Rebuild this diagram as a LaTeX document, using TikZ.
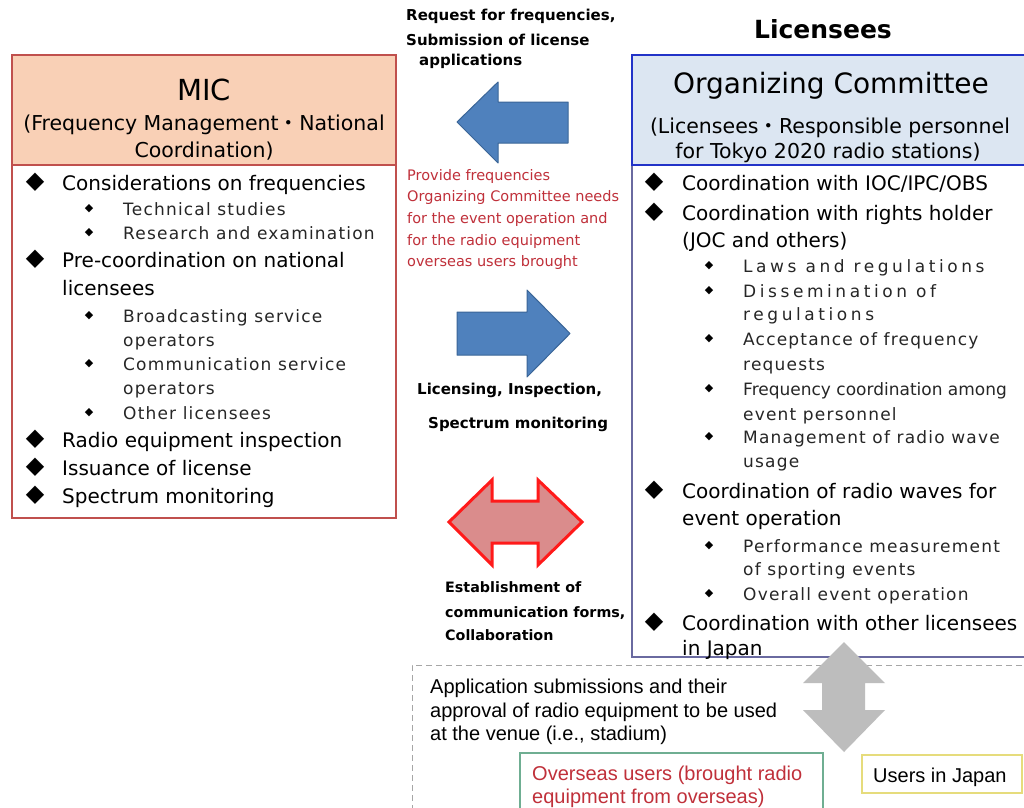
\documentclass[tikz,border=0pt]{standalone}
\usepackage{fontspec}
\setmainfont{DejaVu Sans}
\newfontfamily\subfont[LetterSpace=7]{DejaVu Sans}
\newfontfamily\subwide[LetterSpace=21]{DejaVu Sans}
\newfontfamily\arialf{Liberation Sans}
\newfontfamily\cjk{Noto Sans CJK JP}
\definecolor{micfill}{HTML}{F9D0B6}
\definecolor{micline}{HTML}{C0504D}
\definecolor{ocfill}{HTML}{DCE6F2}
\definecolor{ocline}{HTML}{2233C8}
\definecolor{ocbody}{HTML}{6A6AA0}
\definecolor{bluearr}{HTML}{4F81BD}
\definecolor{bluearrline}{HTML}{3A6597}
\definecolor{redarr}{HTML}{DA8C8C}
\definecolor{redarrline}{HTML}{FF1A1A}
\definecolor{grayarr}{HTML}{BDBDBD}
\definecolor{dashgray}{HTML}{A6A6A6}
\definecolor{redtxt}{HTML}{C0303A}
\definecolor{greenbox}{HTML}{6FAE92}
\definecolor{yellowbox}{HTML}{E6DC7C}
\definecolor{subtxt}{HTML}{262626}
\begin{document}
\begin{tikzpicture}[x=1pt,y=-1pt,
  box/.style={draw, anchor=north west, inner sep=0pt, outer sep=0pt},
  mt/.style={anchor=base west, inner sep=0pt, font=\fontsize{20}{24}\selectfont},
  st/.style={anchor=base west, inner sep=0pt, text=subtxt, font=\subfont\fontsize{17}{20}\selectfont},
  sw/.style={anchor=base west, inner sep=0pt, text=subtxt, font=\subwide\fontsize{17}{20}\selectfont},
  bd/.style={inner sep=0pt, font=\fontsize{24}{24}\selectfont},
  sd/.style={inner sep=0pt, font=\fontsize{11}{11}\selectfont},
  hd/.style={anchor=base, inner sep=0pt, font=\fontsize{20.5}{24}\selectfont},
  bt/.style={anchor=base west, inner sep=0pt, font=\bfseries\fontsize{15}{18}\selectfont},
  rt/.style={anchor=base west, inner sep=0pt, text=redtxt, font=\fontsize{14.5}{17}\selectfont},
  artext/.style={anchor=base west, inner sep=0pt, font=\arialf\fontsize{20}{24}\selectfont},
  blockblue/.style={fill=bluearr, draw=bluearrline, line width=1pt, line join=round},
]
\useasboundingbox (0,0) rectangle (1024,807);
\clip (0,0) rectangle (1024,807);
\fill[white] (0,0) rectangle (1024,807);

% ---------- boxes ----------
\node[box, draw=micline, line width=1.5pt, minimum width=384pt, minimum height=353pt] (micB) at (12,165) {};
\node[box, draw=micline, fill=micfill, line width=2pt, minimum width=384pt, minimum height=110pt] (micH) at (12,55) {};
\node[box, draw=dashgray, dashed, dash pattern=on 6pt off 4pt, line width=1pt, minimum width=640pt, minimum height=170pt] (venue) at (412,665) {};
\node[box, draw=ocbody, line width=1.5pt, minimum width=420pt, minimum height=492pt] (ocB) at (632,165) {};
\node[box, draw=ocline, fill=ocfill, line width=2pt, minimum width=420pt, minimum height=110pt] (ocH) at (632,55) {};
\node[box, draw=greenbox, line width=1.5pt, minimum width=303pt, minimum height=80pt] (ovB) at (520,753) {};
\node[box, draw=yellowbox, line width=1.5pt, minimum width=160pt, minimum height=38pt] (jpB) at (862,755) {};

% ---------- MIC header ----------
\node[anchor=base, inner sep=0pt, font=\fontsize{29}{30}\selectfont] (micT) at (204,100) {MIC};
\node[hd] (micT2) at (204,130) {(Frequency Management{\cjk ・}National};
\node[hd] (micT3) at (204,157) {Coordination)};

% ---------- MIC body ----------
\node[bd] (mb1) at (35,182.5) {◆};
\node[mt] (m1) at (62,190) {Considerations on frequencies};
\node[sd] (ms1) at (89,209) {◆};
\node[st] (s1) at (123,215) {Technical studies};
\node[sd] (ms2) at (89,233) {◆};
\node[st] (s2) at (123,239) {Research and examination};
\node[bd] (mb2) at (35,259.5) {◆};
\node[mt] (m2) at (62,267) {Pre-coordination on national};
\node[mt] (m2b) at (62,295) {licensees};
\node[sd] (ms3) at (89,316) {◆};
\node[st] (s3) at (123,322) {Broadcasting service};
\node[st] (s3b) at (123,346) {operators};
\node[sd] (ms4) at (89,364) {◆};
\node[st] (s4) at (123,370) {Communication service};
\node[st] (s4b) at (123,394) {operators};
\node[sd] (ms5) at (89,413) {◆};
\node[st] (s5) at (123,419) {Other licensees};
\node[bd] (mb3) at (35,439.5) {◆};
\node[mt] (m3) at (62,447) {Radio equipment inspection};
\node[bd] (mb4) at (35,467.5) {◆};
\node[mt] (m4) at (62,475) {Issuance of license};
\node[bd] (mb5) at (35,495.5) {◆};
\node[mt] (m5) at (62,503) {Spectrum monitoring};

% ---------- Licensees header ----------
\node[anchor=base, inner sep=0pt, font=\bfseries\fontsize{25}{28}\selectfont] (lic) at (823,38) {Licensees};
\node[anchor=base, inner sep=0pt, font=\fontsize{28}{30}\selectfont] (ocT) at (831,93) {Organizing Committee};
\node[hd] (ocT2) at (830,133) {(Licensees{\cjk ・}Responsible personnel};
\node[hd] (ocT3) at (828,158) {for Tokyo 2020 radio stations)};

% ---------- Organizing Committee body ----------
\node[bd] (rb1) at (654,182.5) {◆};
\node[mt] (r1) at (682,190) {Coordination with IOC/IPC/OBS};
\node[bd] (rb2) at (654,212.5) {◆};
\node[mt] (r2) at (682,220) {Coordination with rights holder};
\node[mt] (r2b) at (682,247) {(JOC and others)};
\node[sd] (rs1) at (709,266) {◆};
\node[sw] (t1) at (743,272) {Laws and regulations};
\node[sd] (rs2) at (709,291) {◆};
\node[sw] (t2) at (743,297) {Dissemination of};
\node[sw] (t2b) at (743,320) {regulations};
\node[sd] (rs3) at (709,339) {◆};
\node[st] (t3) at (743,345) {Acceptance of frequency};
\node[st] (t3b) at (743,370) {requests};
\node[sd] (rs4) at (709,389) {◆};
\node[anchor=base west, inner sep=0pt, text=subtxt, font=\fontsize{17}{20}\selectfont] (t4) at (743,395) {Frequency coordination among};
\node[st] (t4b) at (743,420) {event personnel};
\node[sd] (rs5) at (709,437) {◆};
\node[st] (t5) at (743,443) {Management of radio wave};
\node[st] (t5b) at (743,467) {usage};
\node[bd] (rb3) at (654,490.5) {◆};
\node[mt] (r3) at (682,498) {Coordination of radio waves for};
\node[mt] (r3b) at (682,525) {event operation};
\node[sd] (rs6) at (709,546) {◆};
\node[st] (t6) at (743,552) {Performance measurement};
\node[st] (t6b) at (743,575) {of sporting events};
\node[sd] (rs7) at (709,594) {◆};
\node[st] (t7) at (743,600) {Overall event operation};
\node[bd] (rb4) at (654,622.5) {◆};
\node[mt] (r4) at (682,630) {Coordination with other licensees};
\node[mt] (r4b) at (682,655) {in Japan};

% ---------- centre column ----------
\node[bt] (q1) at (406,20) {Request for frequencies,};
\node[bt] (q2) at (406,45) {Submission of license};
\node[bt] (q3) at (419,65) {applications};

\draw[blockblue] (457,122) -- (498,82) -- (498,102) -- (568,102) -- (568,143) -- (498,143) -- (498,163) -- cycle;

\node[rt] (p1) at (407,180) {Provide frequencies};
\node[rt] (p2) at (407,201) {Organizing Committee needs};
\node[rt] (p3) at (407,223) {for the event operation and};
\node[rt] (p4) at (407,245) {for the radio equipment};
\node[rt] (p5) at (407,266) {overseas users brought};

\draw[blockblue] (570,333.5) -- (527,290) -- (527,312) -- (457,312) -- (457,355) -- (527,355) -- (527,377) -- cycle;

\node[bt] (l1) at (417,394) {Licensing, Inspection,};
\node[bt] (l2) at (428,428) {Spectrum monitoring};

\draw[fill=redarr, draw=redarrline, line width=3pt, line join=miter]
  (449,522) -- (492,480) -- (492,501) -- (538,501) -- (538,480) -- (582,522)
  -- (538,565) -- (538,543) -- (492,543) -- (492,565) -- cycle;

\node[bt, font=\bfseries\fontsize{14.3}{18}\selectfont] (e1) at (445,592) {Establishment of};
\node[bt, font=\bfseries\fontsize{14.3}{18}\selectfont] (e2) at (445,617) {communication forms,};
\node[bt, font=\bfseries\fontsize{14.3}{18}\selectfont] (e3) at (445,640) {Collaboration};

% ---------- bottom area ----------
\fill[grayarr] (844,642) -- (885,683) -- (865,683) -- (865,710) -- (885,710) -- (844,752)
  -- (803,710) -- (822,710) -- (822,683) -- (803,683) -- cycle;

\node[artext] (a1) at (430,693) {Application submissions and their};
\node[artext] (a2) at (430,717) {approval of radio equipment to be used};
\node[artext] (a3) at (430,740) {at the venue (i.e., stadium)};

\node[artext, text=redtxt] (o1) at (532,780) {Overseas users (brought radio};
\node[artext, text=redtxt] (o2) at (532,803) {equipment from overseas)};
\node[artext] (u1) at (873,782) {Users in Japan};
\end{tikzpicture}
\end{document}
